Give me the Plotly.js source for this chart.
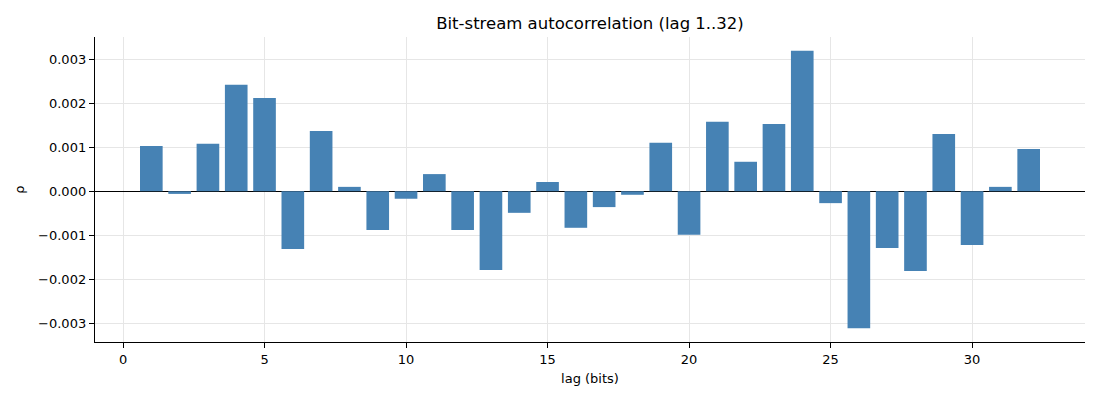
<!DOCTYPE html>
<html>
<head>
<meta charset="utf-8">
<script src="https://cdn.plot.ly/plotly-3.0.1.min.js"></script>
<style>
  html, body { margin: 0; padding: 0; background: #fff; }
  #chart { width: 1100px; height: 400px; }
</style>
</head>
<body>
<div id="chart"></div>
<script>
// lag 1..32 and the autocorrelation
var lags = [];
for (var k = 1; k <= 32; k++) lags.push(k);

var rho = [
   0.00103, -0.00006,  0.00108,  0.00242,  0.00212, -0.00131,  0.00137,  0.00010,
  -0.00088, -0.00017,  0.00039, -0.00088, -0.00179, -0.00049,  0.00021, -0.00083,
  -0.00036, -0.00008,  0.00110, -0.00099,  0.00158,  0.00067,  0.00153,  0.00319,
  -0.00027, -0.00311, -0.00129, -0.00181,  0.00130, -0.00122,  0.00010,  0.00096
];

var xTicks = [0, 5, 10, 15, 20, 25, 30];
var yTicks = [-0.003, -0.002, -0.001, 0, 0.001, 0.002, 0.003];
var yTickText = ["\u22120.003", "\u22120.002", "\u22120.001", "0.000", "0.001", "0.002", "0.003"];

var font = "DejaVu Sans, sans-serif";

var bars = {
  x: lags,
  y: rho,
  type: 'bar',
  width: 0.8,
  marker: {color: '#4682b4', line: {width: 0}},
  showlegend: false,
  hoverinfo: 'x+y'
};

var layout = {
  width: 1100,
  height: 400,
  title: {
    text: "Bit-stream autocorrelation (lag 1..32)",
    font: {family: font, size: 16.5, color: '#000'},
    x: 0.5, xref: 'paper',
    y: 0.943, yref: 'container', yanchor: 'middle'
  },
  font: {family: font, size: 13, color: '#000'},
  paper_bgcolor: '#fff',
  plot_bgcolor: '#fff',
  margin: {l: 95, r: 15, t: 37, b: 58},
  xaxis: {
    range: [-0.99, 33.99],
    tickvals: xTicks,
    ticks: 'outside', ticklen: 5, tickwidth: 1, tickcolor: '#000',
    showline: true, linecolor: '#000', linewidth: 1.2,
    showgrid: true, gridcolor: '#e6e6e6', gridwidth: 1,
    zeroline: false,
    title: {text: "lag (bits)", font: {family: font, size: 13}, standoff: 8}
  },
  yaxis: {
    range: [-0.003425, 0.003505],
    tickvals: yTicks,
    ticktext: yTickText,
    ticks: 'outside', ticklen: 5, tickwidth: 1, tickcolor: '#000',
    showline: true, linecolor: '#000', linewidth: 1.2,
    showgrid: true, gridcolor: '#e6e6e6', gridwidth: 1,
    zeroline: true, zerolinecolor: '#000', zerolinewidth: 1,
    title: {text: "\u03c1", font: {family: font, size: 13}, standoff: 10}
  },
  bargap: 0.2
};

Plotly.newPlot('chart', [bars], layout, {displayModeBar: false, staticPlot: true});
</script>
</body>
</html>
